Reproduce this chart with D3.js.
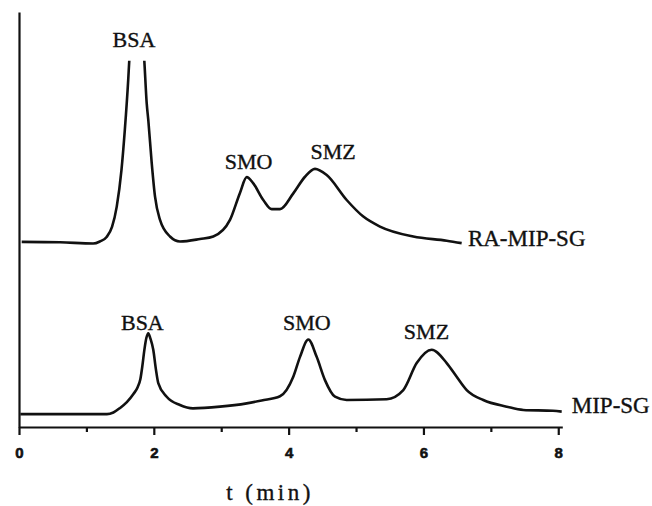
<!DOCTYPE html>
<html>
<head>
<meta charset="utf-8">
<script src="https://cdn.jsdelivr.net/npm/d3@7"></script>
<style>
  body { margin: 0; background: #fff; }
  svg { display: block; }
</style>
</head>
<body>
<div id="chart"></div>
<script>
// retention time (min) and detector signal (arb. units)
var raTime = [0.04, 0.61, 1.1, 1.2, 1.3, 1.38, 1.45, 1.52, 1.57, 1.62, 1.636, 1.75, 1.859, 1.894, 1.918, 1.969,
  2.018, 2.092, 2.24, 2.388, 2.685, 2.882, 3.13, 3.278, 3.378, 3.476, 3.624, 3.749, 3.872, 4.069, 4.243,
  4.391, 4.565, 4.861, 5.108, 5.355, 5.849, 6.345, 6.567];
var raSignal = [44.6, 44.5, 44.2, 44.7, 45.8, 48.2, 53.1, 61.9, 71.6, 83.6, 88.3, 108, 88.3, 78.1, 74.0, 63.6,
  55.5, 49.9, 45.9, 44.7, 45.3, 45.9, 49.9, 56.4, 60.2, 58.7, 54.7, 52.5, 52.5, 56.3, 60.3,
  62.2, 60.7, 54.7, 50.7, 48.3, 45.9, 44.9, 44.3];

var mipTime = [0.02, 1.305, 1.4, 1.5, 1.6, 1.7, 1.76, 1.8, 1.83, 1.86, 1.89, 1.918, 1.95, 1.992, 2.03, 2.066,
  2.191, 2.388, 2.581, 2.982, 3.378, 3.6, 3.872, 4.069, 4.169, 4.292, 4.416, 4.539, 4.688, 4.861, 5.455,
  5.701, 5.9, 6.122, 6.345, 6.493, 6.642, 6.888, 7.235, 7.481, 7.922, 8.051];
var mipSignal = [3.1, 3.1, 3.5, 4.6, 6.0, 8.0, 9.6, 11.5, 14.7, 18.6, 21.5, 22.6, 21.3, 18.6, 14.0, 10.6,
  7.3, 5.3, 4.5, 4.9, 5.7, 6.4, 7.4, 12.1, 16.9, 21.1, 16.9, 11.3, 7.3, 6.5, 6.7,
  8.9, 15.4, 18.6, 15.4, 12.1, 8.9, 6.5, 4.9, 4.1, 3.9, 3.7];

var peakNames = ["BSA", "SMO", "SMZ", "BSA", "SMO", "SMZ"];
var peakTime = [1.705, 3.405, 4.66, 1.83, 4.27, 6.045];
var peakSignal = [91.6, 62.2, 64.6, 23.4, 23.4, 21.2];
var traceNames = ["RA-MIP-SG", "MIP-SG"];
var traceTime = [6.66, 8.2];
var traceSignal = [43.7, 3.4];
var xTicks = [0, 2, 4, 6, 8];
var xMinor = [1, 3, 5, 7];

var SERIF = "'Liberation Serif', 'DejaVu Serif', serif";
var width = 652, height = 506;
var svg = d3.select("#chart").append("svg")
    .attr("width", width)
    .attr("height", height);

var x = d3.scaleLinear().domain([0, 8.06]).range([19, 562.3]);
var y = d3.scaleLinear().domain([0, 100]).range([427, 12]);

// peaks taller than the frame get cut off at the top
svg.append("clipPath").attr("id", "clip")
  .append("rect")
    .attr("x", 0).attr("y", 60.7)
    .attr("width", width).attr("height", height);

var line = d3.line()
    .x(function(d) { return x(d[0]); })
    .y(function(d) { return y(d[1]); })
    .curve(d3.curveMonotoneX);

var traces = [d3.zip(raTime, raSignal), d3.zip(mipTime, mipSignal)];
svg.append("g").attr("clip-path", "url(#clip)")
  .selectAll("path")
  .data(traces)
  .enter()
  .append("path")
    .attr("d", line)
    .attr("fill", "none")
    .attr("stroke", "#111")
    .attr("stroke-width", 2.6)
    .attr("stroke-linejoin", "round");

// axes
var minorAxis = svg.append("g")
    .attr("transform", "translate(0,427)")
    .call(d3.axisBottom(x).tickValues(xMinor).tickSize(5).tickSizeOuter(0).tickFormat(""));
minorAxis.select(".domain").remove();

var xAxis = svg.append("g")
    .attr("transform", "translate(0,427)")
    .style("font-family", "'Liberation Sans', Arial, sans-serif")
    .style("font-size", "15px")
    .style("font-weight", "bold")
    .call(d3.axisBottom(x).tickValues(xTicks).tickSize(8).tickSizeOuter(0).tickPadding(12));
xAxis.attr("font-family", null).attr("font-size", null);
xAxis.selectAll("text")
    .style("fill", "#111")
    .style("stroke", "#111")
    .style("stroke-width", "0.6px");

var yAxis = svg.append("g")
    .attr("transform", "translate(19,0)")
    .call(d3.axisLeft(y).tickValues([]).tickSizeOuter(0));

svg.selectAll(".domain").attr("stroke", "#111").attr("stroke-width", 2.2);
svg.selectAll(".tick line").attr("stroke", "#111").attr("stroke-width", 2.2);

// the scanned labels look a bit heavier than plain regular type
var labels = svg.append("g")
    .style("font-family", SERIF)
    .style("font-size", "22px")
    .style("fill", "#111")
    .style("stroke", "#111")
    .style("stroke-width", "0.35px");

// peak labels
labels.selectAll("text.peak")
  .data(peakNames)
  .enter()
  .append("text")
    .attr("class", "peak")
    .attr("text-anchor", "middle")
    .attr("x", function(d, i) { return x(peakTime[i]); })
    .attr("y", function(d, i) { return y(peakSignal[i]); })
    .text(function(d) { return d; });

labels.selectAll("text.trace")
  .data(traceNames)
  .enter()
  .append("text")
    .attr("class", "trace")
    .style("font-size", "23px")
    .attr("x", function(d, i) { return x(traceTime[i]); })
    .attr("y", function(d, i) { return y(traceSignal[i]); })
    .text(function(d) { return d; });

labels.append("text")
    .style("font-size", "23px")
    .style("letter-spacing", "3.5px")
    .attr("x", 270)
    .attr("y", 500)
    .attr("text-anchor", "middle")
    .text("t (min)");
</script>
</body>
</html>
